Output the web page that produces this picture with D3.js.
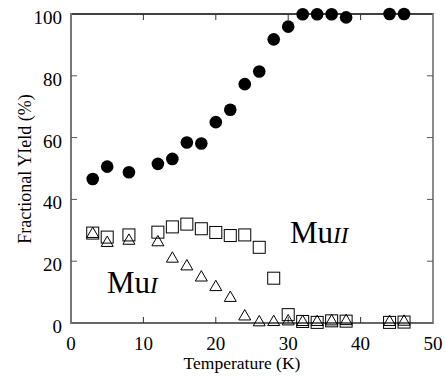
<!DOCTYPE html>
<html>
<head>
<meta charset="utf-8">
<script src="https://cdn.jsdelivr.net/npm/d3@7"></script>
<style>
	body { margin: 0; background: #fff; }
	svg text { font-family: "Liberation Serif", "Times New Roman", serif; fill: #000; }
</style>
</head>
<body>
<svg id="plot" width="445" height="379" font-family="Liberation Serif, serif"></svg>
<script>
// temperatures (K)
const temps = [3, 5, 8, 12, 14, 16, 18, 20, 22, 24, 26, 28, 30, 32, 34, 36, 38, 44, 46];
// total yield (filled circles)
const total = [46.6, 50.6, 48.8, 51.5, 53.1, 58.4, 58.1, 65.0, 69.0, 77.3, 81.4, 91.8, 95.9, 99.9, 99.9, 99.9, 98.9, 100, 100];
// MuII (open squares)
const muII = [29.1, 27.8, 28.5, 29.4, 31.1, 32.0, 30.5, 29.3, 28.3, 28.5, 24.5, 14.5, 2.7, 0.5, 0.2, 0.7, 0.6, 0.2, 0.3];
// MuI (open triangles)
const muI = [28.8, 25.9, 26.6, 26.1, 20.8, 18.3, 14.7, 11.6, 8.1, 2.1, 0.2, 0.3, 0.5, 0.3, 0.3, 0.5, 0.6, 0.3, 0.4];

const xTicks = [0, 10, 20, 30, 40, 50];
const yTicks = [0, 20, 40, 60, 80, 100];

const svg = d3.select('#plot');
const m = {left: 71, right: 433, top: 14, bottom: 323};

const x = d3.scaleLinear().domain([0, 50]).range([m.left, m.right]);
const y = d3.scaleLinear().domain([0, 100]).range([m.bottom, m.top]);

// frame
svg.append('line').attr('x1', m.left).attr('x2', m.right).attr('y1', m.top).attr('y2', m.top)
	.attr('stroke', '#000').attr('stroke-width', 1.5);
svg.append('line').attr('x1', m.left).attr('x2', m.right).attr('y1', m.bottom).attr('y2', m.bottom)
	.attr('stroke', '#333').attr('stroke-width', 1.5);
svg.append('line').attr('x1', m.left).attr('x2', m.left).attr('y1', m.top - 1).attr('y2', m.bottom + 1)
	.attr('stroke', '#777').attr('stroke-width', 2);
svg.append('line').attr('x1', m.right).attr('x2', m.right).attr('y1', m.top - 1).attr('y2', m.bottom + 1)
	.attr('stroke', '#666').attr('stroke-width', 1.5);

// inner ticks
const tickLen = 6;
const innerX = xTicks.slice(1, -1);
svg.append('g').selectAll('line').data(innerX).enter().append('line')
	.attr('x1', d => x(d)).attr('x2', d => x(d)).attr('y1', m.bottom).attr('y2', m.bottom - tickLen)
	.attr('stroke', '#333').attr('stroke-width', 1);
svg.append('g').selectAll('line').data(innerX).enter().append('line')
	.attr('x1', d => x(d)).attr('x2', d => x(d)).attr('y1', m.top).attr('y2', m.top + tickLen)
	.attr('stroke', '#333').attr('stroke-width', 1);
const innerY = yTicks.slice(1, -1);
svg.append('g').selectAll('line').data(innerY).enter().append('line')
	.attr('x1', m.left).attr('x2', m.left + tickLen).attr('y1', d => y(d)).attr('y2', d => y(d))
	.attr('stroke', '#555').attr('stroke-width', 1);
svg.append('g').selectAll('line').data(innerY).enter().append('line')
	.attr('x1', m.right).attr('x2', m.right - tickLen).attr('y1', d => y(d)).attr('y2', d => y(d))
	.attr('stroke', '#555').attr('stroke-width', 1);

// tick labels
svg.append('g').selectAll('text').data(xTicks).enter().append('text')
	.attr('x', d => x(d)).attr('y', 350)
	.attr('text-anchor', 'middle').style('font-size', '19px')
	.text(d => d);
svg.append('g').selectAll('text').data(yTicks).enter().append('text')
	.attr('x', 62).attr('y', d => y(d) + 10)
	.attr('text-anchor', 'end').style('font-size', '19px')
	.text(d => d);

// axis titles
svg.append('text').attr('x', 242).attr('y', 369).attr('text-anchor', 'middle')
	.style('font-size', '17.5px').text('Temperature (K)');
svg.append('text').attr('transform', 'translate(31,169) rotate(-90)')
	.attr('text-anchor', 'middle').style('font-size', '18px').text('Fractional YIeld (%)');

const pts = temps.map((t, i) => ({t: t, total: total[i], m2: muII[i], m1: muI[i]}));

// squares
svg.append('g').selectAll('rect').data(pts).enter().append('rect')
	.attr('x', d => x(d.t) - 6).attr('y', d => y(d.m2) - 6)
	.attr('width', 12).attr('height', 12)
	.attr('fill', 'none').attr('stroke', '#000').attr('stroke-width', 1);

// triangles
const tri = d3.symbol().type(d3.symbolTriangle).size(62);
svg.append('g').selectAll('path').data(pts).enter().append('path')
	.attr('d', tri)
	.attr('transform', d => 'translate(' + x(d.t) + ',' + y(d.m1) + ')')
	.attr('fill', 'none').attr('stroke', '#000').attr('stroke-width', 1);

// filled circles
svg.append('g').selectAll('circle').data(pts).enter().append('circle')
	.attr('cx', d => x(d.t)).attr('cy', d => y(d.total)).attr('r', 6.3)
	.attr('fill', '#000');

// labels
const l1 = svg.append('text').attr('x', 107).attr('y', 293).style('font-size', '31px');
l1.append('tspan').text('Mu');
l1.append('tspan').style('font-style', 'italic').style('font-size', '23px').text('I');
const l2 = svg.append('text').attr('x', 290).attr('y', 243).style('font-size', '31px');
l2.append('tspan').text('Mu');
l2.append('tspan').style('font-style', 'italic').style('font-size', '23px').text('II');
</script>
</body>
</html>
